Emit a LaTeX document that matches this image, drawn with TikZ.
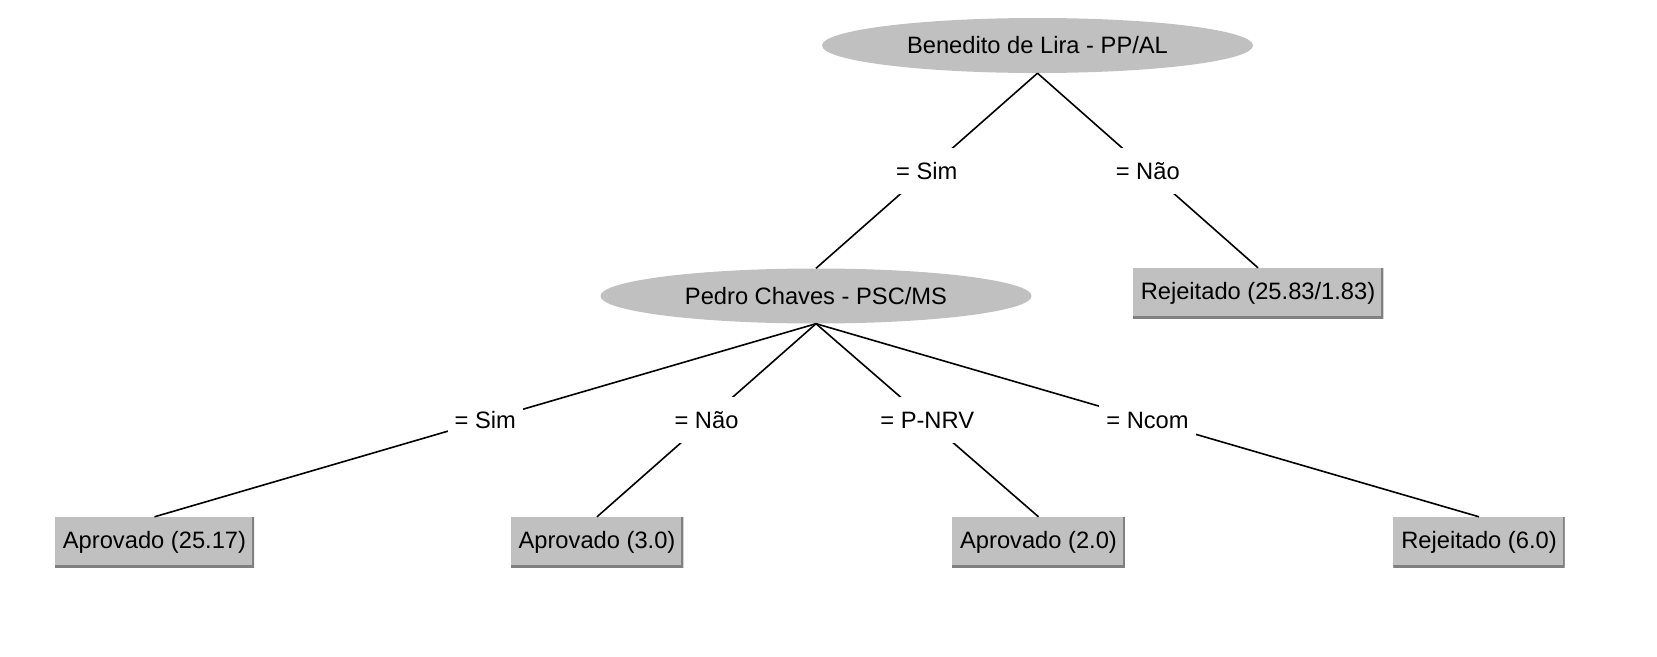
\documentclass[tikz,border=0pt]{standalone}
\usepackage{fontspec}
\setmainfont{Liberation Sans}
\usetikzlibrary{shapes.geometric}
\definecolor{boxgray}{HTML}{C0C0C0}
\definecolor{shadegray}{HTML}{808080}
\begin{document}
\begin{tikzpicture}[x=1pt,y=1pt,
  every node/.style={font=\fontsize{23.7}{28}\selectfont, text=black},
  attr/.style={ellipse, fill=boxgray, minimum width=431, minimum height=55, inner sep=0pt},
  leaf/.style={rectangle, fill=boxgray, minimum height=50, inner xsep=8pt, inner ysep=0pt,
    path picture={\draw[shadegray, line width=4pt]
      (path picture bounding box.north east) -- (path picture bounding box.south east)
      -- (path picture bounding box.south west);}},
  lbl/.style={fill=white, text height=17pt, text depth=0pt, inner xsep=7pt, inner ysep=14.5pt},
  conn/.style={draw=black, line width=1.6pt}]
\useasboundingbox (0,0) rectangle (1657,-656);
\node[attr] (root) at (1037.5,-45.5) {Benedito de Lira - PP/AL};
\node[attr] (pedro) at (816,-296) {Pedro Chaves - PSC/MS};
\node[leaf] (rej1) at (1258,-293) {Rejeitado (25.83/1.83)};
\node[leaf] (a1) at (154.5,-542) {Aprovado (25.17)};
\node[leaf] (a2) at (597,-542) {Aprovado (3.0)};
\node[leaf] (a3) at (1038.5,-542) {Aprovado (2.0)};
\node[leaf] (r2) at (1479,-542) {Rejeitado (6.0)};
\draw[conn] (root.south) -- node[lbl] (l1) {= Sim} (pedro.north);
\draw[conn] (root.south) -- node[lbl] (l2) {= Não} (rej1.north);
\draw[conn] (pedro.south) -- node[lbl] (l3) {= Sim} (a1.north);
\draw[conn] (pedro.south) -- node[lbl] (l4) {= Não} (a2.north);
\draw[conn] (pedro.south) -- node[lbl] (l5) {= P-NRV} (a3.north);
\draw[conn] (pedro.south) -- node[lbl] (l6) {= Ncom} (r2.north);
\end{tikzpicture}
\end{document}
